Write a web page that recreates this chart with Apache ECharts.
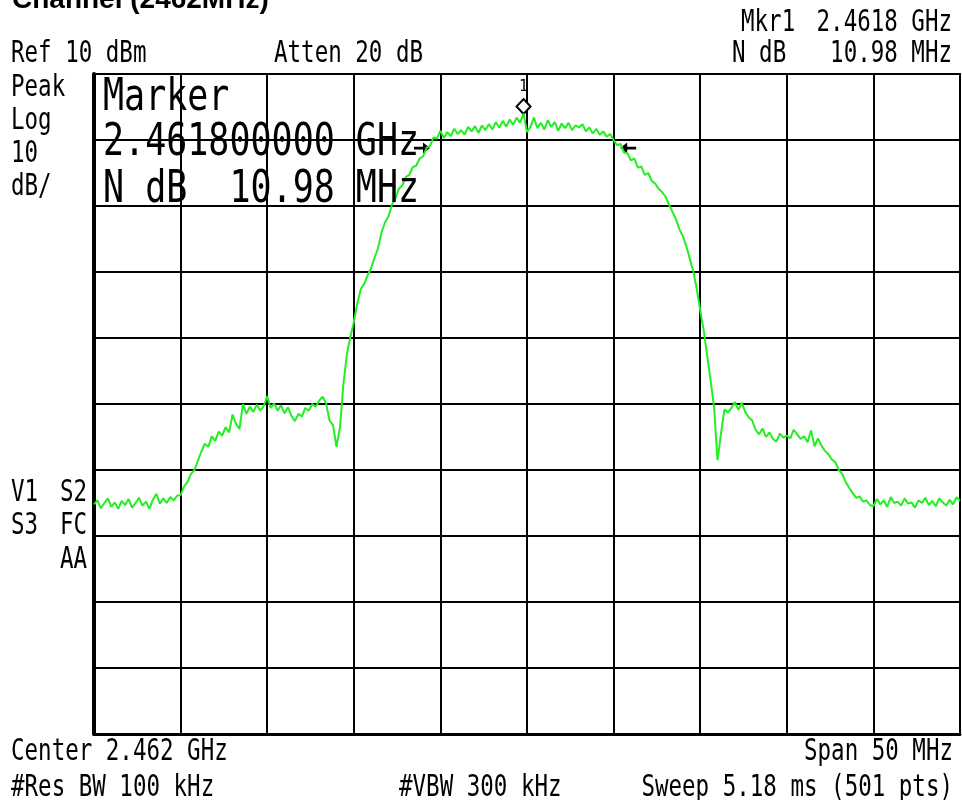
<!DOCTYPE html>
<html>
<head>
<meta charset="utf-8">
<script src="https://cdn.jsdelivr.net/npm/echarts@6/dist/echarts.min.js"></script>
<style>
  html, body { margin: 0; padding: 0; background: #fff; }
  #chart { width: 962px; height: 800px; }
</style>
</head>
<body>
<div id="chart"></div>
<script>
// Sweep: offsets in MHz from the 2.462 GHz centre, 0.2 MHz per point
const sweepStart = -25;
const sweepStep = 0.2;

// Trace levels in dBm, 5 MHz per block
const levelsA = [-55.2, -54.6, -55.8, -55.0, -54.3, -55.6, -54.9, -55.9, -54.7, -55.3, -54.4, -55.7, -55.0, -54.2, -55.4, -54.8, -55.9, -54.5, -53.6, -55.1, -54.3, -55.0, -54.1, -54.6, -53.9];
const levelsB = [-53.8, -52.5, -51.8, -50.6, -50.0, -48.6, -47.2, -46.0, -46.5, -44.9, -45.6, -44.2, -44.8, -43.5, -44.3, -41.6, -43.0, -43.8, -40.0, -41.5, -40.4, -41.2, -40.1, -41.0, -40.3];
const levelsC = [-38.8, -40.6, -39.9, -41.0, -40.2, -41.4, -40.5, -41.8, -42.6, -41.5, -41.9, -40.6, -41.0, -40.0, -40.4, -39.5, -38.9, -39.9, -42.5, -43.2, -46.5, -43.6, -37.0, -32.5, -29.8];
const levelsD = [-27.6, -24.8, -22.6, -21.8, -20.5, -19.4, -17.8, -16.4, -14.0, -12.5, -11.6, -9.8, -8.9, -7.4, -6.9, -5.6, -5.3, -4.1, -3.9, -2.8, -2.5, -1.2, -0.9, 0.4, 0.2];
const levelsE = [1.4, 0.3, 1.2, 0.6, 1.7, 0.9, 1.5, 0.8, 2.0, 1.3, 2.1, 1.1, 2.2, 1.5, 2.4, 1.6, 2.7, 1.9, 2.9, 2.0, 3.1, 2.3, 3.4, 2.6, 4.0];
const levelsF = [1.2, 2.0, 3.4, 1.8, 2.6, 1.6, 3.0, 2.0, 2.7, 1.4, 2.5, 1.8, 2.6, 1.5, 2.2, 1.9, 2.4, 1.3, 1.9, 1.0, 1.7, 0.8, 1.3, 0.5, 0.9];
const levelsG = [0.0, -0.8, -0.6, -1.9, -2.0, -3.1, -2.8, -4.2, -4.0, -5.3, -5.0, -6.2, -6.6, -7.4, -7.9, -8.6, -9.8, -10.9, -12.0, -13.5, -14.6, -16.1, -18.0, -19.9, -22.5];
const levelsH = [-25.8, -28.8, -32.6, -36.4, -40.5, -48.5, -44.5, -40.8, -41.3, -40.6, -39.7, -40.9, -39.8, -41.2, -42.0, -42.5, -43.9, -44.6, -43.7, -45.0, -44.3, -45.3, -45.7, -44.5, -45.1];
const levelsI = [-44.8, -45.2, -43.9, -44.6, -45.3, -44.9, -45.8, -44.0, -46.4, -45.2, -46.3, -47.1, -47.6, -48.4, -48.8, -50.0, -50.6, -51.8, -52.7, -53.5, -54.2, -54.0, -54.8, -54.6, -55.3];
const levelsJ = [-55.5, -54.4, -55.2, -54.6, -55.6, -54.1, -55.0, -54.8, -55.4, -54.3, -55.1, -54.9, -55.7, -54.6, -55.0, -54.2, -55.3, -54.7, -55.5, -54.3, -54.9, -55.4, -54.5, -55.2, -54.1, -54.7];

// Marker 1 and the N dB bandwidth edges (MHz offsets)
const markerOffset = -0.2;
const ndbLeft = -5.6;
const ndbWidth = 10.98;
const ndbLevel = -1.2;

// Annotation texts
const titleText = 'Channel (2462MHz)';
const topLeftTexts = ['Ref 10 dBm', 'Atten 20 dB'];
const scaleTexts = ['Peak', 'Log', '10', 'dB/'];
const statusTexts = ['V1', 'S2', 'S3', 'FC', 'AA'];
const markerTexts = ['Mkr1', '2.4618 GHz', 'N dB', '10.98 MHz'];
const markerBlock = ['Marker', '2.461800000 GHz', 'N dB  10.98 MHz'];
const bottomTexts = ['Center 2.462 GHz', 'Span 50 MHz', '#Res BW 100 kHz', '#VBW 300 kHz', 'Sweep 5.18 ms (501 pts)'];

const traceLevels = [].concat(levelsA, levelsB, levelsC, levelsD, levelsE, levelsF, levelsG, levelsH, levelsI, levelsJ);
const traceData = traceLevels.map((v, i) => [Math.round((sweepStart + i * sweepStep) * 10) / 10, v]);
const markerPoint = traceData.find(d => Math.abs(d[0] - markerOffset) < 1e-6);

const MONO = '"DejaVu Sans Mono"';
const SMALL = 22.5, SMALL_SY = 1.3;
const BIG = 35, BIG_SY = 1.25;

function txt(str, x, y, size, sy, align) {
  return {
    type: 'text', x: x, y: y, scaleY: sy, silent: true, z: 100,
    style: {
      text: str, x: 0, y: 0,
      font: size + 'px ' + MONO,
      fill: '#000',
      align: align || 'left', verticalAlign: 'middle',
      textAlign: align || 'left', textVerticalAlign: 'middle'
    }
  };
}

const graphics = [
  {
    type: 'text', x: 12, y: 0, silent: true, z: 100,
    style: {
      text: titleText, x: 0, y: 0,
      font: 'bold 28px "Liberation Sans"', fill: '#000',
      align: 'left', verticalAlign: 'middle', textAlign: 'left', textVerticalAlign: 'middle'
    }
  },
  txt(topLeftTexts[0], 11, 54, SMALL, SMALL_SY),
  txt(topLeftTexts[1], 274, 54, SMALL, SMALL_SY),
  txt(scaleTexts[0], 11, 88, SMALL, SMALL_SY),
  txt(scaleTexts[1], 11, 121, SMALL, SMALL_SY),
  txt(scaleTexts[2], 11, 154, SMALL, SMALL_SY),
  txt(scaleTexts[3], 11, 187, SMALL, SMALL_SY),
  txt(statusTexts[0], 11, 493, SMALL, SMALL_SY),
  txt(statusTexts[1], 87, 493, SMALL, SMALL_SY, 'right'),
  txt(statusTexts[2], 11, 526, SMALL, SMALL_SY),
  txt(statusTexts[3], 87, 526, SMALL, SMALL_SY, 'right'),
  txt(statusTexts[4], 87, 560, SMALL, SMALL_SY, 'right'),
  txt(markerTexts[0], 741, 23, SMALL, SMALL_SY),
  txt(markerTexts[1], 952, 23, SMALL, SMALL_SY, 'right'),
  txt(markerTexts[2], 732, 54, SMALL, SMALL_SY),
  txt(markerTexts[3], 952, 54, SMALL, SMALL_SY, 'right'),
  txt(markerBlock[0], 103, 99, BIG, BIG_SY),
  txt(markerBlock[1], 103, 144, BIG, BIG_SY),
  txt(markerBlock[2], 103, 191, BIG, BIG_SY),
  txt(bottomTexts[0], 11, 752, SMALL, SMALL_SY),
  txt(bottomTexts[1], 953, 752, SMALL, SMALL_SY, 'right'),
  txt(bottomTexts[2], 11, 788, SMALL, SMALL_SY),
  txt(bottomTexts[3], 399, 788, SMALL, SMALL_SY),
  txt(bottomTexts[4], 953, 788, SMALL, SMALL_SY, 'right')
];

const chart = echarts.init(document.getElementById('chart'), null, { renderer: 'canvas' });

chart.setOption({
  backgroundColor: '#fff',
  animation: false,
  grid: {
    left: 94, top: 74, width: 866, height: 660,
    show: true, borderColor: '#000', borderWidth: 2, backgroundColor: 'transparent'
  },
  xAxis: {
    type: 'value', min: -25, max: 25, interval: 5,
    axisLabel: { show: false }, axisTick: { show: false },
    axisLine: { show: true, onZero: false, lineStyle: { color: '#000', width: 3 } },
    splitLine: { show: true, lineStyle: { color: '#000', width: 2 } }
  },
  yAxis: {
    type: 'value', min: -90, max: 10, interval: 10,
    axisLabel: { show: false }, axisTick: { show: false },
    axisLine: { show: true, onZero: false, lineStyle: { color: '#000', width: 4 } },
    splitLine: { show: true, lineStyle: { color: '#000', width: 2 } }
  },
  graphic: graphics,
  series: [{
    type: 'line',
    data: traceData,
    showSymbol: false,
    symbol: 'none',
    lineStyle: { color: '#22ee22', width: 2 },
    z: 5,
    markPoint: {
      silent: true,
      animation: false,
      data: [
        {
          coord: markerPoint,
          symbol: 'diamond',
          symbolSize: [14, 15],
          symbolOffset: [0, -7],
          itemStyle: { color: '#fff', borderColor: '#000', borderWidth: 2 },
          label: { show: true, formatter: '1', position: 'top', distance: 3, color: '#000', fontFamily: MONO, fontSize: 15 }
        },
        {
          coord: [ndbLeft, ndbLevel],
          symbol: 'path://M0,4 L9,4 L9,0 L16,5 L9,10 L9,6.5 L0,6.5 Z',
          symbolSize: [16, 11],
          symbolOffset: [-8, 0],
          itemStyle: { color: '#000' },
          label: { show: false }
        },
        {
          coord: [ndbLeft + ndbWidth, ndbLevel],
          symbol: 'path://M16,4 L7,4 L7,0 L0,5 L7,10 L7,6.5 L16,6.5 Z',
          symbolSize: [16, 11],
          symbolOffset: [8, 0],
          itemStyle: { color: '#000' },
          label: { show: false }
        }
      ]
    }
  }]
});
</script>
</body>
</html>
